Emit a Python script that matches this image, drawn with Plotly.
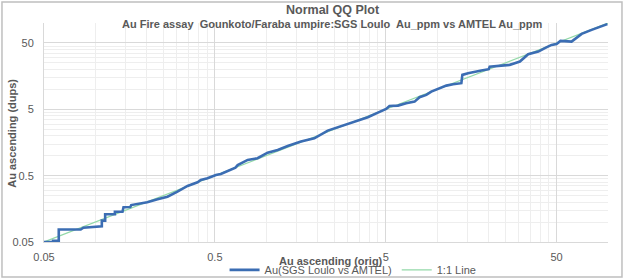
import plotly.graph_objects as go

# ---- data ----
orig = [0.05, 0.0565, 0.0565, 0.061, 0.061, 0.082, 0.085, 0.094, 0.107, 0.109, 0.109,
        0.114, 0.114, 0.13, 0.13, 0.144, 0.146, 0.16, 0.162, 0.176, 0.201, 0.231, 0.264,
        0.302, 0.346, 0.396, 0.414, 0.453, 0.507, 0.542, 0.635, 0.66, 0.68, 0.778, 0.889,
        1.018, 1.166, 1.334, 1.596, 1.91, 2.29, 2.74, 3.28, 3.93, 4.50, 5.03, 5.26, 5.90,
        6.59, 7.38, 7.89, 8.64, 9.24, 10.11, 11.32, 12.39, 13.86, 14.05, 15.17, 18.15,
        20.04, 20.3, 22.7, 26.6, 28.45, 30.5, 34.1, 39.1, 42.7, 46.7, 50.0, 52.7, 61.2,
        70.1, 80.2, 99.2]
dups = [0.05, 0.05, 0.052, 0.052, 0.077, 0.077, 0.082, 0.084, 0.086, 0.086, 0.105,
        0.105, 0.131, 0.131, 0.143, 0.143, 0.167, 0.168, 0.18, 0.187, 0.199, 0.22, 0.241,
        0.287, 0.35, 0.397, 0.43, 0.457, 0.513, 0.53, 0.647, 0.66, 0.72, 0.863, 0.915,
        1.111, 1.222, 1.403, 1.63, 1.83, 2.39, 2.81, 3.26, 3.80, 4.46, 5.07, 5.62, 5.69,
        6.18, 6.53, 7.62, 8.24, 9.24, 10.16, 11.38, 11.96, 12.38, 16.52, 17.5, 19.18,
        20.1, 22.0, 22.6, 23.4, 24.8, 26.2, 33.9, 37.1, 41.8, 46.8, 48.4, 53.8, 52.5,
        68.6, 78.8, 96.1]
one_to_one = [0.05, 100]
tick_vals = [0.05, 0.5, 5, 50]
tick_text = ["0.05", "0.5", "5", "50"]
minor_vals = [0.05 * k * 10 ** d for d in range(0, 4) for k in range(2, 10)]

TXT = "#595959"
FONT = "Liberation Sans, Arial, sans-serif"

fig = go.Figure()
fig.add_trace(go.Scatter(x=one_to_one, y=one_to_one, mode="lines", name="1:1 Line",
                         line=dict(color="#93D9A8", width=1.2), legendrank=2))
fig.add_trace(go.Scatter(x=orig, y=dups, mode="lines", name="Au(SGS Loulo vs AMTEL)",
                         line=dict(color="#3B6DB3", width=2.6), legendrank=1))

axis_common = dict(
    type="log", range=[-1.30103, 2.0], tickvals=tick_vals, ticktext=tick_text,
    showgrid=True, gridcolor="#D9D9D9", gridwidth=1, zeroline=False,
    showline=True, linecolor="#D9D9D9", linewidth=1,
    tickfont=dict(family=FONT, size=11, color=TXT), ticks="",
    minor=dict(tickvals=minor_vals, showgrid=True, gridcolor="#EEEEEE", gridwidth=1, ticks=""),
)
fig.update_xaxes(**axis_common, ticklabelstandoff=5)
fig.update_yaxes(**axis_common, ticklabelstandoff=7)

fig.update_layout(
    width=626, height=280,
    margin=dict(l=44, r=18, t=23, b=38, autoexpand=False),
    paper_bgcolor="white", plot_bgcolor="white",
    font=dict(family=FONT, color=TXT, size=11),
    showlegend=True,
    legend=dict(orientation="h", xref="container", yref="container",
                x=0.564, xanchor="center", y=0.036, yanchor="middle",
                font=dict(family=FONT, size=11, color=TXT), bgcolor="rgba(0,0,0,0)",
                itemwidth=30, tracegroupgap=0),
    annotations=[
        dict(text="<b>Normal QQ Plot</b>", xref="paper", yref="paper", x=0.512, y=1.059,
             xanchor="center", yanchor="middle", showarrow=False,
             font=dict(family=FONT, size=12.5, color=TXT)),
        dict(text="<b>Au Fire assay  Gounkoto/Faraba umpire:SGS Loulo  Au_ppm vs AMTEL Au_ppm</b>",
             xref="paper", yref="paper", x=0.512, y=0.995, xanchor="center", yanchor="middle",
             showarrow=False, font=dict(family=FONT, size=11, color=TXT)),
        dict(text="<b>Au ascending (orig)</b>", xref="paper", yref="paper", x=0.509, y=-0.087,
             xanchor="center", yanchor="middle", showarrow=False,
             font=dict(family=FONT, size=11, color=TXT)),
        dict(text="<b>Au ascending (dups)</b>", xref="paper", yref="paper", x=-0.057, y=0.498,
             xanchor="center", yanchor="middle", textangle=-90, showarrow=False,
             font=dict(family=FONT, size=11, color=TXT)),
    ],
    shapes=[
        dict(type="rect", xref="paper", yref="paper", x0=-0.0745, x1=1.0248, y0=-0.160, y1=1.096,
             line=dict(color="#BFBFBF", width=1.5), fillcolor="rgba(0,0,0,0)", layer="below"),
    ],
)

fig.write_html("out.html")
